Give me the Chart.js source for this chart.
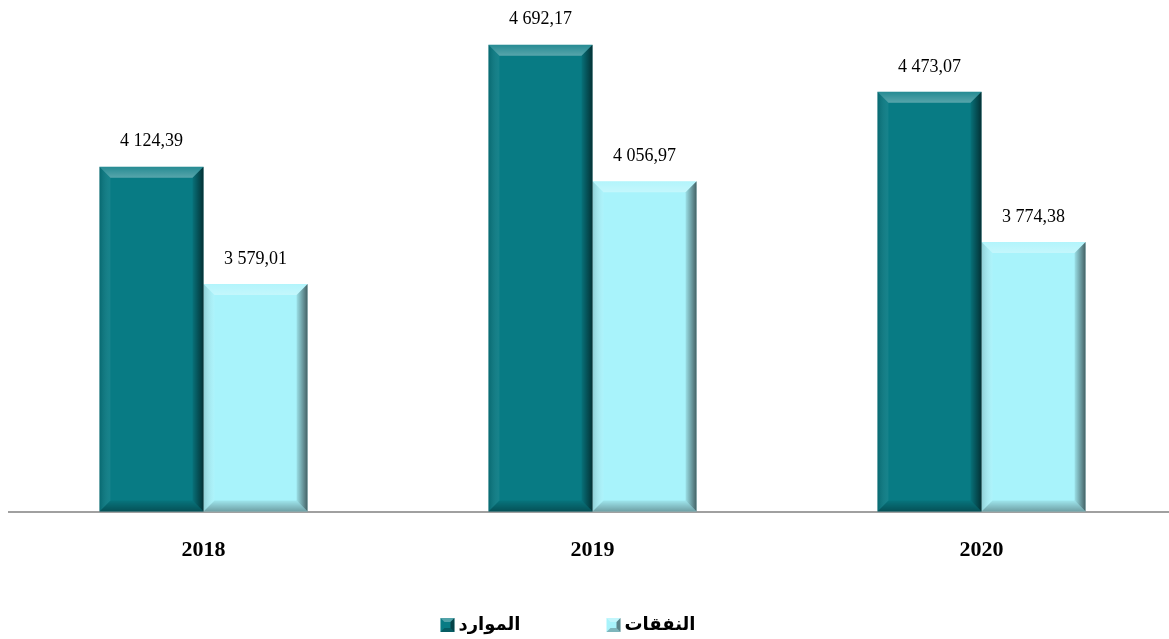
<!DOCTYPE html>
<html>
<head>
<meta charset="utf-8">
<script src="https://cdn.jsdelivr.net/npm/chart.js@4/dist/chart.umd.min.js"></script>
<style>
    html, body { margin: 0; padding: 0; overflow: hidden; background: #ffffff; }
    #wrap { width: 1176px; height: 639px; }
</style>
</head>
<body>
<div id="wrap"><canvas id="budget-chart" width="1176" height="639"></canvas></div>
<script>
// ───────────────────────── DATA ─────────────────────────
const years     = ["2018", "2019", "2020"];
const resources = [4124.39, 4692.17, 4473.07];   // الموارد
const expenses  = [3579.01, 4056.97, 3774.38];   // النفقات
const seriesNames = ["الموارد", "النفقات"];

// ───────────────────────── STYLE ─────────────────────────
const darkTeal  = "#087b84";
const lightCyan = "#a8f3fb";
const bevel     = 11;

// "4 124,39" style numbers
function fmt(v) {
    const [int, dec] = v.toFixed(2).split(".");
    return int.replace(/\B(?=(\d{3})+(?!\d))/g, " ") + "," + dec;
}

// ───────────────────────── BEVEL + LABELS PLUGIN ─────────────────────────
const bevelPlugin = {
    id: "bevel",
    afterDatasetsDraw(chart) {
        const c = chart.ctx;
        chart.data.datasets.forEach((ds, di) => {
            chart.getDatasetMeta(di).data.forEach((bar, i) => {
                const l = bar.x - bar.width / 2, r = bar.x + bar.width / 2;
                const t = bar.y, b = Math.min(bar.base, chart.chartArea.bottom); // axis doesn't start at 0
                c.save();
                // top face (light)
                let g = c.createLinearGradient(0, t, 0, t + bevel);
                g.addColorStop(0, "rgba(255,255,255,0.12)");
                g.addColorStop(1, "rgba(255,255,255,0.32)");
                c.fillStyle = g;
                c.beginPath();
                c.moveTo(l, t); c.lineTo(r, t); c.lineTo(r - bevel, t + bevel); c.lineTo(l + bevel, t + bevel);
                c.closePath(); c.fill();
                // left face
                g = c.createLinearGradient(l, 0, l + bevel, 0);
                g.addColorStop(0, "rgba(0,0,0,0.15)");
                g.addColorStop(1, "rgba(255,255,255,0.06)");
                c.fillStyle = g;
                c.beginPath();
                c.moveTo(l, t); c.lineTo(l + bevel, t + bevel); c.lineTo(l + bevel, b - bevel); c.lineTo(l, b);
                c.closePath(); c.fill();
                // right face (dark)
                g = c.createLinearGradient(r - bevel, 0, r, 0);
                g.addColorStop(0, "rgba(0,0,0,0.08)");
                g.addColorStop(1, "rgba(0,0,0,0.6)");
                c.fillStyle = g;
                c.beginPath();
                c.moveTo(r, t); c.lineTo(r, b); c.lineTo(r - bevel, b - bevel); c.lineTo(r - bevel, t + bevel);
                c.closePath(); c.fill();
                // bottom face
                g = c.createLinearGradient(0, b - bevel, 0, b);
                g.addColorStop(0, "rgba(0,0,0,0.06)");
                g.addColorStop(1, "rgba(0,0,0,0.35)");
                c.fillStyle = g;
                c.beginPath();
                c.moveTo(l, b); c.lineTo(r, b); c.lineTo(r - bevel, b - bevel); c.lineTo(l + bevel, b - bevel);
                c.closePath(); c.fill();
                // value label
                c.fillStyle = "#000000";
                c.font = "18px 'Liberation Serif'";
                c.textAlign = "center";
                c.textBaseline = "middle";
                c.fillText(fmt(ds.data[i]), bar.x, t - 25);
                c.restore();
            });
        });
    }
};

// ───────────────────────── LEGEND PLUGIN ─────────────────────────
const legendCenterX = 568, legendY = 625, legendBox = 14, legendGap = 86;
const legendPlugin = {
    id: "customLegend",
    afterDraw(chart) {
        const c = chart.ctx;
        c.save();
        c.font = "bold 18px 'DejaVu Sans'";
        c.textBaseline = "middle";
        c.textAlign = "left";
        const widths = seriesNames.map(n => legendBox + 4 + c.measureText(n).width);
        const total  = widths[0] + legendGap + widths[1];
        let x = legendCenterX - total / 2;
        chart.data.datasets.forEach((ds, di) => {
            const y = legendY - legendBox / 2;
            c.fillStyle = ds.backgroundColor;
            c.fillRect(x, y, legendBox, legendBox);
            const k = 4;
            c.fillStyle = "rgba(255,255,255,0.3)";
            c.beginPath(); c.moveTo(x, y); c.lineTo(x + legendBox, y); c.lineTo(x + legendBox - k, y + k); c.lineTo(x + k, y + k); c.closePath(); c.fill();
            c.fillStyle = "rgba(0,0,0,0.45)";
            c.beginPath(); c.moveTo(x + legendBox, y); c.lineTo(x + legendBox, y + legendBox); c.lineTo(x + legendBox - k, y + legendBox - k); c.lineTo(x + legendBox - k, y + k); c.closePath(); c.fill();
            c.fillStyle = "rgba(0,0,0,0.25)";
            c.beginPath(); c.moveTo(x, y + legendBox); c.lineTo(x + legendBox, y + legendBox); c.lineTo(x + legendBox - k, y + legendBox - k); c.lineTo(x + k, y + legendBox - k); c.closePath(); c.fill();
            c.fillStyle = "#000000";
            c.fillText(ds.label, x + legendBox + 4, legendY);
            x += widths[di] + legendGap;
        });
        c.restore();
    }
};

// ───────────────────────── CHART SETUP ─────────────────────────
const ctx = document.getElementById("budget-chart").getContext("2d");
const budgetChart = new Chart(ctx, {
    type: "bar",
    data: {
        labels: years,
        datasets: [
            { label: seriesNames[0], data: resources, backgroundColor: darkTeal,  borderWidth: 0 },
            { label: seriesNames[1], data: expenses,  backgroundColor: lightCyan, borderWidth: 0 }
        ]
    },
    options: {
        responsive: false,
        animation:  false,
        devicePixelRatio: 1,
        categoryPercentage: 0.535,
        barPercentage: 1,
        layout: { padding: { left: 9, right: 0, top: 0, bottom: 49 } },
        scales: {
            x: {
                grid:   { display: false, drawTicks: false },
                border: { display: true, color: "#a0a0a0", width: 2 },
                ticks:  { color: "#000000", padding: 26, font: { family: "Liberation Serif", size: 22, weight: "bold" } }
            },
            y: {
                display: false,
                min: 2520,
                max: 4900
            }
        },
        plugins: {
            legend:  { display: false },
            tooltip: { enabled: false }
        }
    },
    plugins: [bevelPlugin, legendPlugin]
});
</script>
</body>
</html>
